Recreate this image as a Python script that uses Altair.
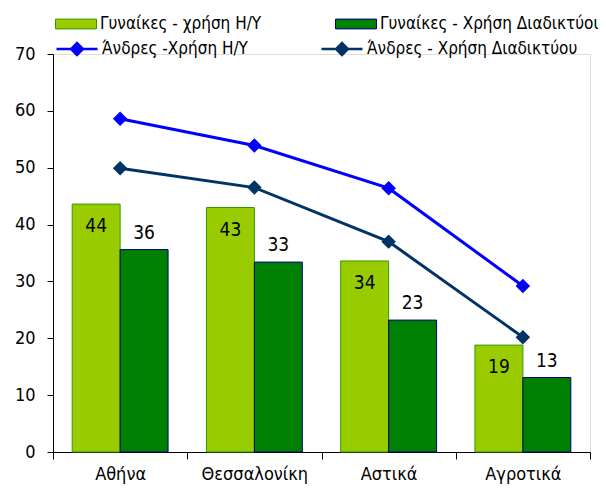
import altair as alt
import pandas as pd

categories = ["Αθήνα", "Θεσσαλονίκη", "Αστικά", "Αγροτικά"]
women_pc = [43.6, 43.0, 33.6, 18.8]
women_net = [35.6, 33.4, 23.2, 13.1]
men_pc = [58.6, 53.9, 46.4, 29.2]
men_net = [49.9, 46.5, 37.0, 20.2]

S1 = "Γυναίκες - χρήση Η/Υ"
S2 = "Γυναίκες - Χρήση Διαδικτύου"
S3 = "Άνδρες -Χρήση Η/Υ"
S4 = "Άνδρες - Χρήση Διαδικτύου"

bars = pd.DataFrame({"cat": categories * 2, "series": [S1] * 4 + [S2] * 4,
                     "value": women_pc + women_net})
lines = pd.DataFrame({"cat": categories * 2, "series": [S3] * 4 + [S4] * 4,
                      "value": men_pc + men_net})

FONT = "DejaVu Sans Condensed, DejaVu Sans"
RECT_PATH = "M-1,-0.24L1,-0.24L1,0.24L-1,0.24Z"
LINE_PATH = "M-1,0L1,0M-0.29,0L0,-0.29L0.29,0L0,0.29Z"

x = alt.X("cat:N", sort=categories,
          scale=alt.Scale(paddingInner=0, paddingOuter=0),
          axis=alt.Axis(title=None, labelAngle=0, tickBand="extent", tickSize=7,
                        labelPadding=6, labelFontSize=18, labelFont=FONT,
                        labelColor="black", domainColor="black", tickColor="black"))
y = alt.Y("value:Q", scale=alt.Scale(domain=[0, 70], nice=False),
          axis=alt.Axis(title=None, values=list(range(0, 71, 10)), grid=False,
                        tickSize=6, labelPadding=12, labelFontSize=18, labelFont=FONT,
                        labelColor="black", domainColor="black", tickColor="black"))
xoff = alt.XOffset("series:N", sort=[S1, S2],
                   scale=alt.Scale(domain=[S1, S2], paddingOuter=0.4, paddingInner=0))

bar_legend = alt.Legend(
    orient="none", legendX=2, legendY=-51, direction="horizontal", columns=2,
    title=None, symbolType=RECT_PATH, symbolSize=1681, symbolStrokeWidth=1,
    symbolStrokeColor={"expr": "scale('stroke', datum.value)"},
    labelFont=FONT, labelFontSize=17, labelColor="black", labelOffset=3,
    columnPadding=71, padding=0, labelLimit=400,
)
line_legend = alt.Legend(
    orient="none", legendX=2, legendY=-27, direction="horizontal", columns=2,
    title=None, symbolType=LINE_PATH, symbolSize=1681, symbolStrokeWidth=2.5,
    symbolFillColor={"expr": "scale('color', datum.value)"},
    symbolStrokeColor={"expr": "scale('color', datum.value)"},
    labelFont=FONT, labelFontSize=17, labelColor="black", labelOffset=3,
    columnPadding=68, padding=0, labelLimit=400,
)

bar_layer = alt.Chart(bars).mark_bar(strokeWidth=1, opacity=1).encode(
    x=x, y=y, xOffset=xoff,
    fill=alt.Fill("series:N", sort=[S1, S2],
                  scale=alt.Scale(domain=[S1, S2], range=["#99CC00", "#008000"]),
                  legend=bar_legend),
    stroke=alt.Stroke("series:N",
                      scale=alt.Scale(domain=[S1, S2], range=["#339900", "#000080"]),
                      legend=None),
)

label_in = alt.Chart(bars).transform_filter(alt.datum.series == S1).mark_text(
    dy=22, fontSize=19, font=FONT, color="black", baseline="middle").encode(
    x=x, y=y, xOffset=xoff, text=alt.Text("value:Q", format=".0f"))
label_out = alt.Chart(bars).transform_filter(alt.datum.series == S2).mark_text(
    dy=-17, fontSize=19, font=FONT, color="black", baseline="middle").encode(
    x=x, y=y, xOffset=xoff, text=alt.Text("value:Q", format=".0f"))

color = alt.Color("series:N", sort=[S3, S4],
                  scale=alt.Scale(domain=[S3, S4], range=["#0000FF", "#003366"]),
                  legend=line_legend)

line_layer = alt.Chart(lines).mark_line(strokeWidth=3).encode(x=x, y=y, color=color)
point_layer = alt.Chart(lines).mark_point(shape="diamond", filled=True, size=210,
                                          opacity=1).encode(x=x, y=y, color=color)

chart = alt.layer(bar_layer, label_in, label_out, line_layer, point_layer).properties(
    width=537, height=398,
    autosize=alt.AutoSizeParams(type="none"),
    padding={"left": 45, "top": 46, "right": 8, "bottom": 34},
).configure_view(stroke=None).configure(background="white")

chart.save("out.html", embed_options={"renderer": "svg", "actions": False})
